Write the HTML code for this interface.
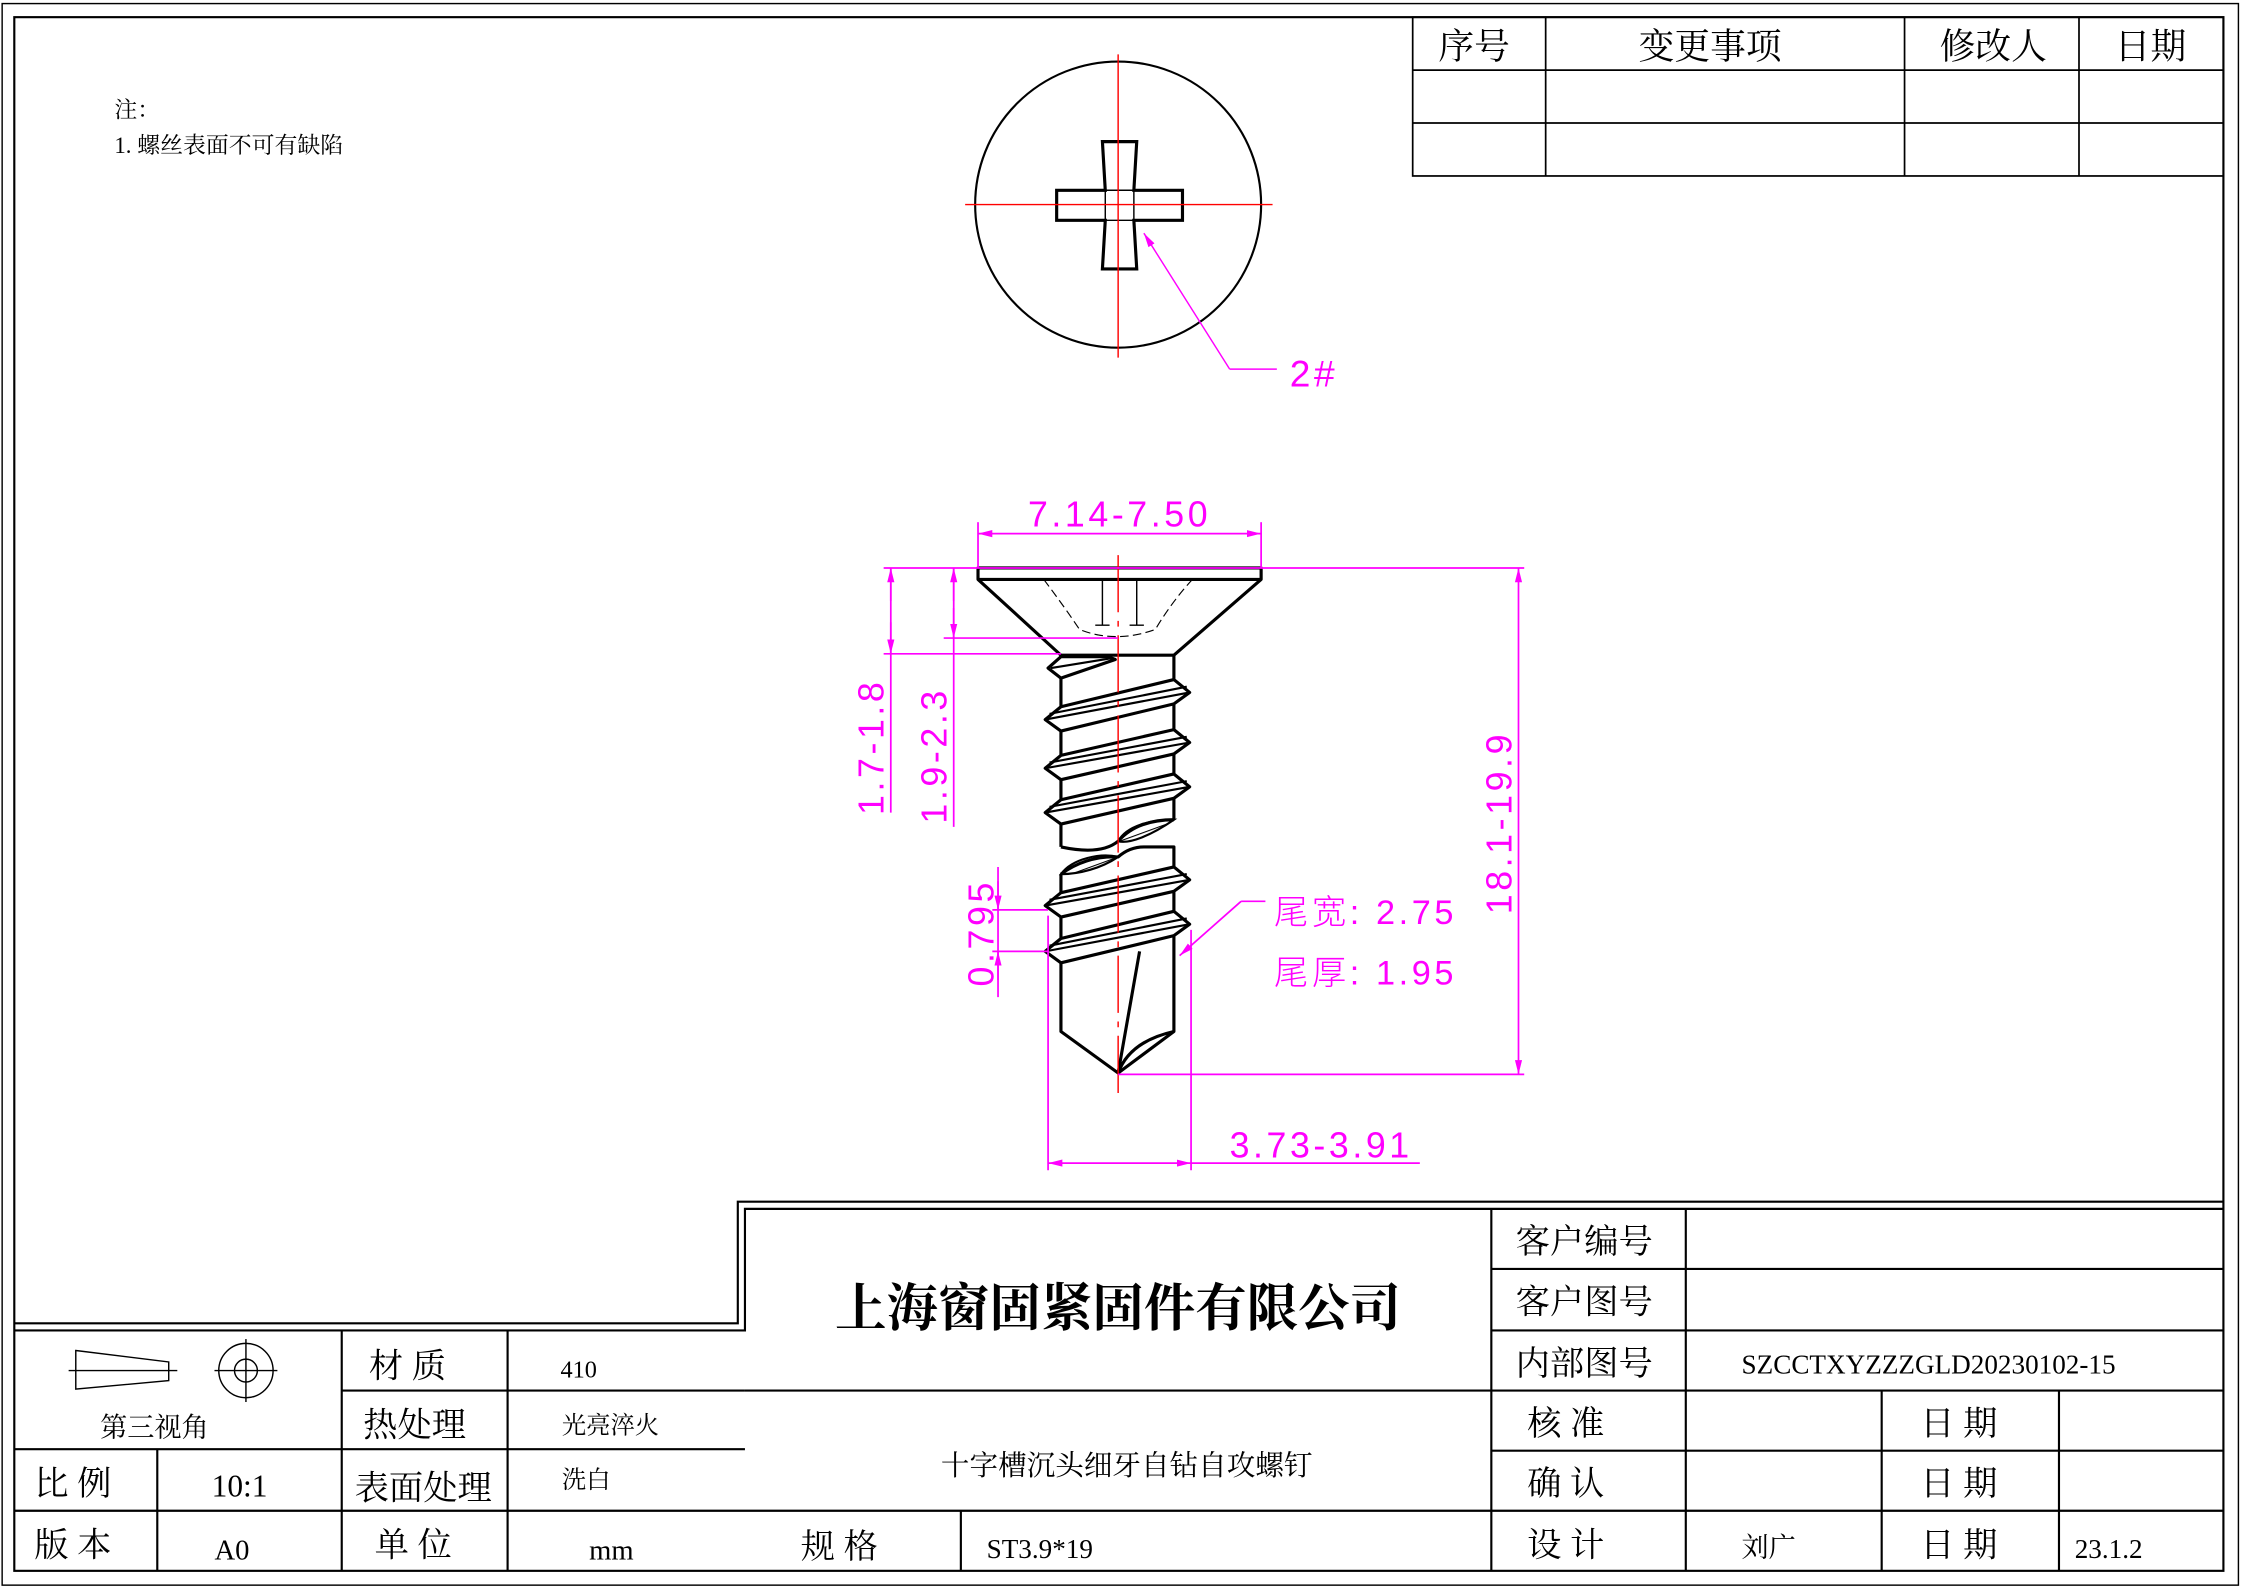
<!DOCTYPE html>
<html><head><meta charset="utf-8"><style>
html,body{margin:0;padding:0;background:#fff;}
svg{display:block;}
.t{font-family:"Liberation Serif","Noto Serif CJK SC",serif;fill:#000;}
.m{font-family:"Liberation Sans","Noto Sans CJK SC",sans-serif;fill:#ff00ff;font-weight:300;letter-spacing:2.5px;}
</style></head><body>
<svg width="2242" height="1588" viewBox="0 0 1568 1110" preserveAspectRatio="none" xmlns="http://www.w3.org/2000/svg">
<defs>
<marker id="a" viewBox="0 0 10 10" refX="10" refY="5" markerWidth="10" markerHeight="10" markerUnits="userSpaceOnUse" orient="auto-start-reverse"><path d="M0,2.5 L10,5 L0,7.5z" fill="#ff00ff"/></marker>
<pattern id="h" width="5" height="5" patternUnits="userSpaceOnUse" patternTransform="rotate(70)"><line x1="0" y1="0" x2="0" y2="5" stroke="#000" stroke-width="1.5"/></pattern>
</defs>
<rect width="1568" height="1110" fill="#fff"/>
<rect x="1.5" y="2.5" width="1564" height="1105.5" fill="none" stroke="#000" stroke-width="1"/>
<rect x="10" y="12" width="1545" height="1086" fill="none" stroke="#000" stroke-width="1.5"/>
<g stroke="#000" stroke-width="1.2" fill="none">
<rect x="988" y="12" width="567" height="111"/>
<line x1="988" y1="49" x2="1555" y2="49"/><line x1="988" y1="86" x2="1555" y2="86"/>
<line x1="1081" y1="12" x2="1081" y2="123"/><line x1="1332" y1="12" x2="1332" y2="123"/><line x1="1454" y1="12" x2="1454" y2="123"/>
</g>
<g class="t" font-size="25" text-anchor="middle">
<text x="1031" y="41">序号</text><text x="1196" y="41">变更事项</text><text x="1394" y="41">修改人</text><text x="1504" y="41">日期</text>
</g>
<text class="t" x="80" y="82" font-size="16">注：</text>
<text class="t" x="80" y="107" font-size="16">1. 螺丝表面不可有缺陷</text>

<!-- top view -->
<circle cx="782" cy="143" r="100" fill="none" stroke="#000" stroke-width="1.5"/>
<path d="M771,99 L795,99 L793,133 L827,133 L827,154 L793,154 L795,188 L771,188 L773,154 L739,154 L739,133 L773,133Z" fill="none" stroke="#000" stroke-width="2.2"/>
<path d="M773,133 L793,133 L793,154 L773,154Z" fill="none" stroke="#000" stroke-width="1"/>
<line x1="675" y1="143" x2="890" y2="143" stroke="#f00" stroke-width="1"/>
<line x1="782" y1="38" x2="782" y2="250" stroke="#f00" stroke-width="1"/>
<polyline points="860,258 893,258" stroke="#ff00ff" fill="none"/>
<line x1="860" y1="258" x2="800" y2="163" stroke="#ff00ff" marker-end="url(#a)"/>
<text class="m" x="902" y="270" font-size="26">2#</text>

<!-- screw side view -->
<g stroke="#000" stroke-width="2.2" fill="none" stroke-linejoin="round">
<path d="M684,397 L882,397 L882,405 L821,458 L742,458 L684,405Z"/>
<line x1="684" y1="405" x2="882" y2="405"/>
<path d="M742,458 L742,592 M821,458 L821,573"/>
<path d="M742,592 Q770,598 782,588 Q795,573 821,573"/>
<path d="M742,611 L742,721 L782,750 L821,721 L821,592 L800,592 Q790,592 782,599 Q760,598 742,611"/>
<path d="M782,750 L797,665 M782,750 Q790,728 821,721"/>
</g>
<path d="M782,588 C788,577 805,573 821,573 C805,584 790,590 782,588Z" fill="url(#h)" stroke="#000" stroke-width="1.5"/>
<path d="M742,611 C750,600 770,596 782,599 C770,607 755,611 742,611Z" fill="url(#h)" stroke="#000" stroke-width="1.5"/>
<path d="M730,405 Q745,425 755,440 Q780,450 808,440 Q820,420 834,405" stroke="#000" stroke-width="0.8" stroke-dasharray="6,3" fill="none"/>
<path d="M771,405 L771,437 M795,405 L795,437 M766,437 L776,437 M790,437 L800,437" stroke="#000" stroke-width="1" fill="none"/>
<g stroke="#000" stroke-width="2.2" fill="#fff" stroke-linejoin="round">
<path d="M742,459 L733,467 L742,474 L780,461 L775,459Z"/>
<path d="M742,494 L731,503 L742,511 L821,492 L832,484 L821,475Z"/>
<path d="M742,528 L731,537 L742,545 L821,527 L832,519 L821,510Z"/>
<path d="M742,559 L731,568 L742,576 L821,558 L832,550 L821,541Z"/>
<path d="M742,624 L731,633 L742,641 L821,623 L832,615 L821,606Z"/>
<path d="M742,656 L731,665 L742,673 L821,654 L832,646 L821,637Z"/>
</g>
<g stroke="#000" stroke-width="1.5" fill="none">
<path d="M735,467 L778,460"/>
<path d="M731,503 L832,484 M734,499 L830,480"/>
<path d="M731,537 L832,519 M734,533 L830,515"/>
<path d="M731,568 L832,550 M734,564 L830,546"/>
<path d="M731,633 L832,615 M734,629 L830,611"/>
<path d="M731,665 L832,646 M734,661 L830,642"/>
</g>
<line x1="782" y1="388" x2="782" y2="765" stroke="#f00" stroke-width="1" stroke-dasharray="40,6,4,6"/>

<!-- dimensions -->
<g stroke="#ff00ff" stroke-width="1.2" fill="none">
<line x1="684" y1="365" x2="684" y2="397"/><line x1="882" y1="365" x2="882" y2="397"/>
<line x1="684" y1="373" x2="882" y2="373" marker-start="url(#a)" marker-end="url(#a)"/>
<line x1="618" y1="397" x2="1066" y2="397"/>
<line x1="660" y1="446" x2="782" y2="446"/>
<line x1="618" y1="457" x2="742" y2="457"/>
<line x1="623" y1="397" x2="623" y2="568"/>
<line x1="623" y1="420" x2="623" y2="397" marker-end="url(#a)"/>
<line x1="623" y1="435" x2="623" y2="457" marker-end="url(#a)"/>
<line x1="667" y1="397" x2="667" y2="578"/>
<line x1="667" y1="420" x2="667" y2="397" marker-end="url(#a)"/>
<line x1="667" y1="425" x2="667" y2="446" marker-end="url(#a)"/>
<line x1="1062" y1="397" x2="1062" y2="751" marker-start="url(#a)" marker-end="url(#a)"/>
<line x1="782" y1="751" x2="1066" y2="751"/>
<line x1="733" y1="640" x2="733" y2="818"/><line x1="833" y1="650" x2="833" y2="818"/>
<line x1="733" y1="813" x2="833" y2="813" marker-start="url(#a)" marker-end="url(#a)"/>
<line x1="833" y1="813" x2="993" y2="813"/>
<line x1="698" y1="606" x2="698" y2="697"/>
<line x1="698" y1="616" x2="698" y2="636" marker-end="url(#a)"/>
<line x1="698" y1="685" x2="698" y2="665" marker-end="url(#a)"/>
<line x1="694" y1="636" x2="733" y2="636"/><line x1="694" y1="665" x2="733" y2="665"/>
<line x1="885" y1="630" x2="868" y2="630"/>
<line x1="868" y1="630" x2="825" y2="668" marker-end="url(#a)"/>
</g>
<g class="m">
<text x="783" y="368" font-size="25" text-anchor="middle">7.14-7.50</text>
<text transform="translate(618,522) rotate(-90)" font-size="25" text-anchor="middle">1.7-1.8</text>
<text transform="translate(662,528) rotate(-90)" font-size="25" text-anchor="middle">1.9-2.3</text>
<text transform="translate(1057,575) rotate(-90)" font-size="25" text-anchor="middle">18.1-19.9</text>
<text transform="translate(695,652) rotate(-90)" font-size="25" text-anchor="middle">0.795</text>
<text x="924" y="809" font-size="25" text-anchor="middle">3.73-3.91</text>
<text x="891" y="646" font-size="24">尾宽: 2.75</text>
<text x="891" y="688" font-size="24">尾厚: 1.95</text>
</g>

<!-- title block -->
<g stroke="#000" stroke-width="1.5" fill="none">
<polyline points="10,925 516,925 516,840 1555,840"/>
<polyline points="10,930 521,930 521,845 1555,845"/>
<line x1="10" y1="1013" x2="521" y2="1013"/><line x1="10" y1="1056" x2="1555" y2="1056"/>
<line x1="239" y1="972" x2="521" y2="972"/>
<line x1="110" y1="1013" x2="110" y2="1098"/>
<line x1="239" y1="930" x2="239" y2="1098"/><line x1="355" y1="930" x2="355" y2="1098"/>
<line x1="1043" y1="845" x2="1043" y2="1098"/><line x1="1179" y1="845" x2="1179" y2="1098"/>
<line x1="1043" y1="887" x2="1555" y2="887"/><line x1="1043" y1="930" x2="1555" y2="930"/>
<line x1="521" y1="972" x2="1555" y2="972"/><line x1="1043" y1="1014" x2="1555" y2="1014"/>
<line x1="1316" y1="972" x2="1316" y2="1098"/><line x1="1440" y1="972" x2="1440" y2="1098"/>
<line x1="672" y1="1056" x2="672" y2="1098"/>
</g>
<g stroke="#000" stroke-width="1" fill="none">
<path d="M53,944 L118,952 L118,965 L53,971Z"/>
<line x1="48" y1="958" x2="124" y2="958"/>
<circle cx="172" cy="958" r="19"/><circle cx="172" cy="958" r="8"/>
<line x1="150" y1="958" x2="194" y2="958"/><line x1="172" y1="936" x2="172" y2="980"/>
</g>
<g class="t" font-size="24">
<text x="258" y="963">材 质</text>
<text x="392" y="963" font-size="17">410</text>
<text x="254" y="1004">热处理</text>
<text x="393" y="1002" font-size="17">光亮淬火</text>
<text x="248" y="1048">表面处理</text>
<text x="393" y="1040" font-size="17">洗白</text>
<text x="24" y="1045">比 例</text>
<text x="148" y="1046" font-size="22">10:1</text>
<text x="24" y="1088">版 本</text>
<text x="150" y="1090" font-size="20">A0</text>
<text x="262" y="1088">单 位</text>
<text x="412" y="1090" font-size="20">mm</text>
<text x="70" y="1004" font-size="19">第三视角</text>
<text x="1060" y="876">客户编号</text>
<text x="1060" y="918">客户图号</text>
<text x="1060" y="961">内部图号</text>
<text x="1218" y="960" font-size="19">SZCCTXYZZZGLD20230102-15</text>
<text x="1068" y="1003">核  准</text>
<text x="1068" y="1045">确  认</text>
<text x="1068" y="1088">设  计</text>
<text x="1343" y="1003">日 期</text>
<text x="1343" y="1045">日 期</text>
<text x="1343" y="1088">日 期</text>
<text x="1218" y="1088" font-size="19">刘广</text>
<text x="1451" y="1089" font-size="19">23.1.2</text>
<text x="560" y="1089">规  格</text>
<text x="690" y="1089" font-size="19">ST3.9*19</text>
<text x="782" y="927" font-size="36" font-weight="bold" text-anchor="middle">上海窗固紧固件有限公司</text>
<text x="788" y="1031" font-size="20" text-anchor="middle">十字槽沉头细牙自钻自攻螺钉</text>
</g>
</svg>
</body></html>
